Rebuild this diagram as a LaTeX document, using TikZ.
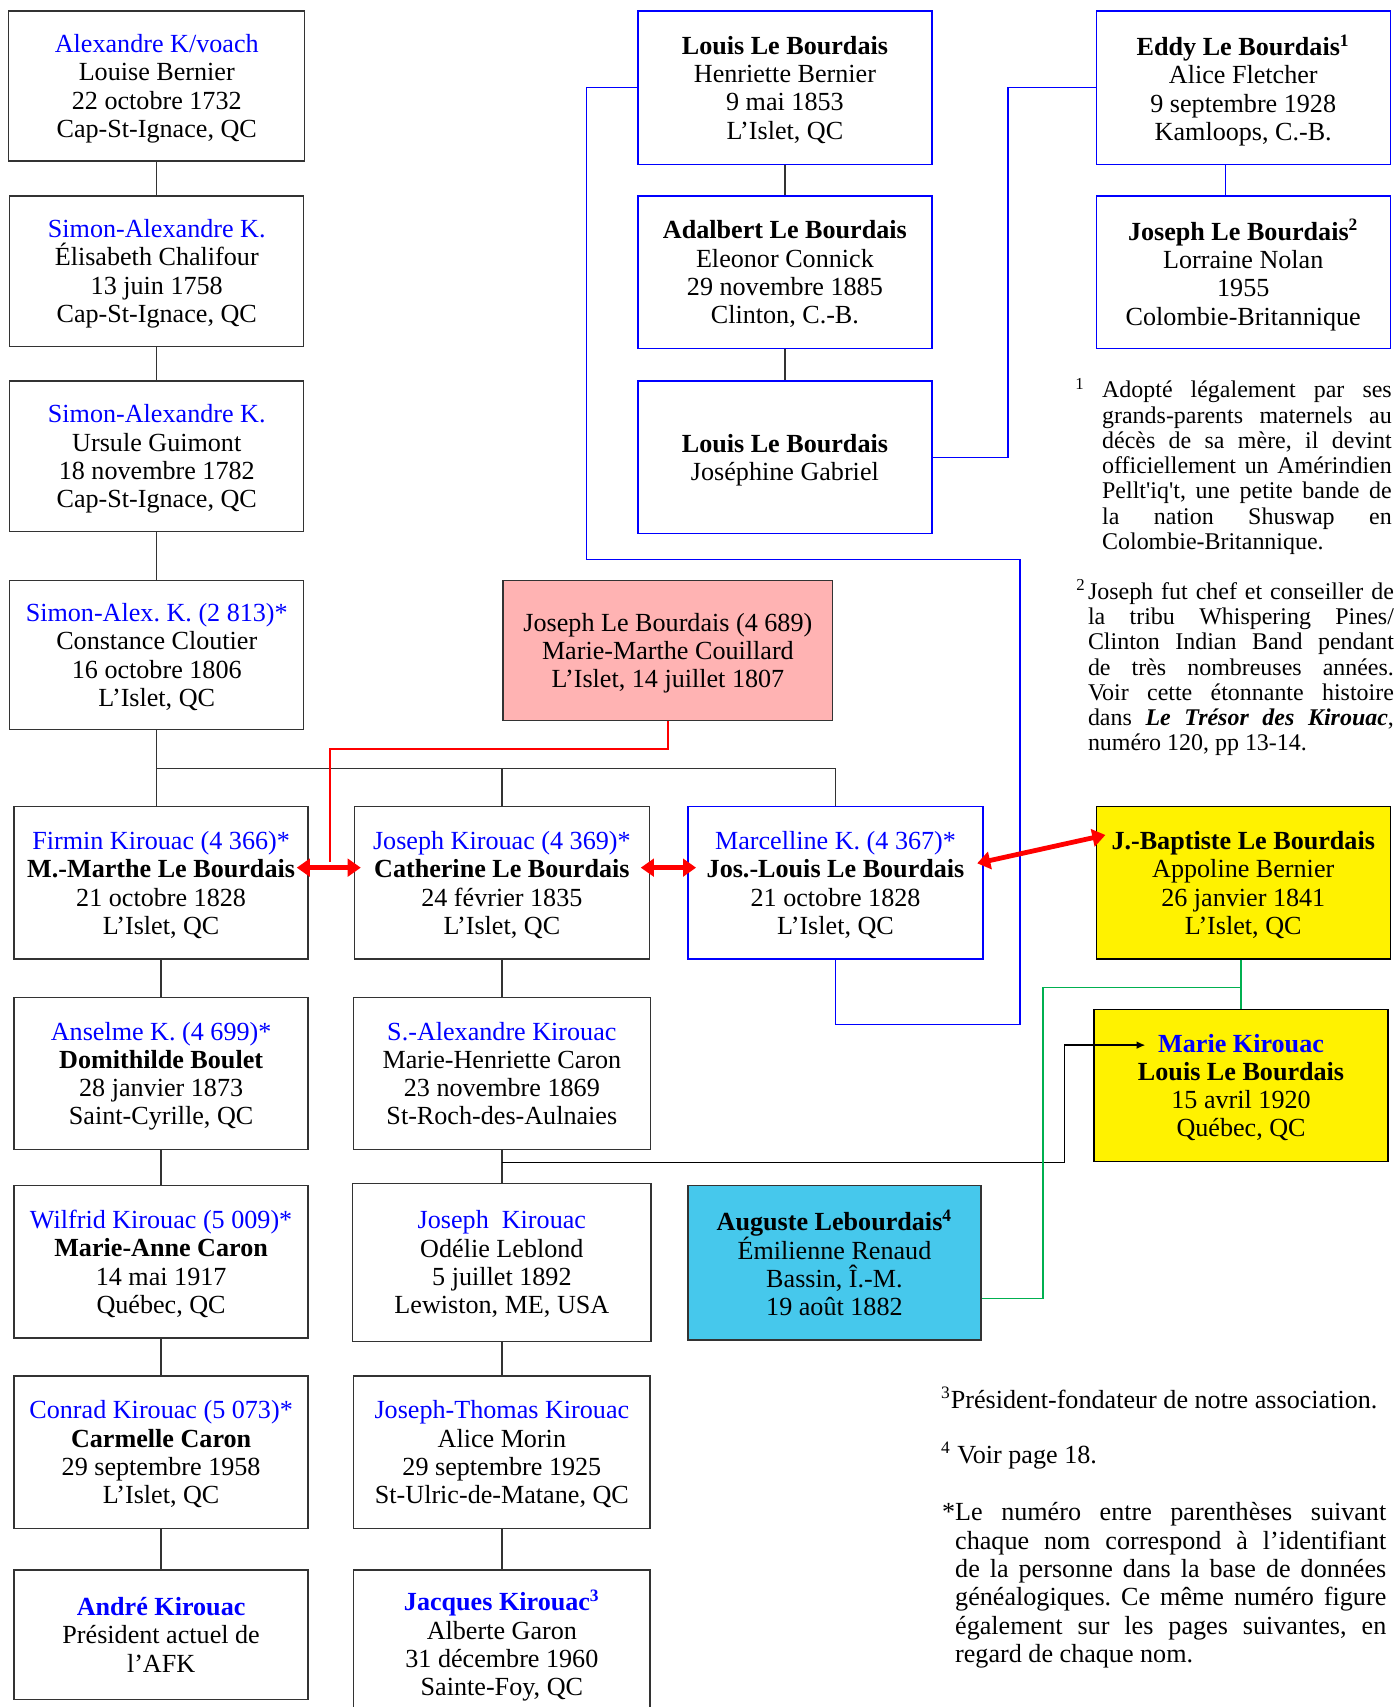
\documentclass[tikz,border=0pt]{standalone}
\usepackage{fontspec}
\setmainfont{Liberation Serif}
\usetikzlibrary{arrows.meta}
\definecolor{pinkfill}{RGB}{255,179,179}
\definecolor{cyanfill}{RGB}{70,200,236}
\definecolor{greenlink}{RGB}{0,176,80}
\definecolor{boxgray}{RGB}{51,51,51}
\newcommand{\kin}[1]{\textcolor{blue}{#1}}
\frenchspacing
\begin{document}
\begin{tikzpicture}[x=0.5pt,y=-0.5pt,
    box/.style={draw=boxgray,line width=0.6pt,align=center,inner sep=0pt,
      minimum width=135pt,minimum height=70pt,text depth=0pt,
      font=\fontsize{12}{13}\selectfont},
    bluebox/.style={box,draw=blue},
    link/.style={draw=boxgray,line width=0.6pt},
    marriage/.style={red,line width=2.2pt,
      {Triangle[length=6pt,width=8pt]}-{Triangle[length=6pt,width=8pt]}},
    note/.style={anchor=north west,inner sep=0pt,align=justify}]
  \useasboundingbox (0,0) rectangle (1283,1568);
  % left column
  \draw
    (144,79) node[box,minimum width=136pt,minimum height=69pt] (alex)
      {\kin{Alexandre K/voach}\\Louise Bernier\\22 octobre 1732\\Cap-St-Ignace, QC}
    (144,249) node[box,minimum height=69pt] (simonA)
      {\kin{Simon-Alexandre K.}\\Élisabeth Chalifour\\13 juin 1758\\Cap-St-Ignace, QC}
    (144,419) node[box,minimum height=69pt] (simonB)
      {\kin{Simon-Alexandre K.}\\Ursule Guimont\\18 novembre 1782\\Cap-St-Ignace, QC}
    (144,601.5) node[box,minimum height=68.5pt] (simonC)
      {\kin{Simon-Alex. K. (2 813)*}\\Constance Cloutier\\16 octobre 1806\\L’Islet, QC}
    (148,811) node[box] (firmin)
      {\kin{Firmin Kirouac (4 366)*}\\\textbf{M.-Marthe Le Bourdais}\\21 octobre 1828\\L’Islet, QC}
    (148,986) node[box] (anselme)
      {\kin{Anselme K. (4 699)*}\\\textbf{Domithilde Boulet}\\28 janvier 1873\\Saint-Cyrille, QC}
    (148,1159) node[box] (wilfrid)
      {\kin{Wilfrid Kirouac (5 009)*}\\\textbf{Marie-Anne Caron}\\14 mai 1917\\Québec, QC}
    (148,1334) node[box] (conrad)
      {\kin{Conrad Kirouac (5 073)*}\\\textbf{Carmelle Caron}\\29 septembre 1958\\L’Islet, QC}
    (148,1501.5) node[box,minimum height=59.5pt,text depth=-4pt] (andre)
      {\kin{\textbf{André Kirouac}}\\Président actuel de\\l’AFK};
  % second column
  \draw
    (461,811) node[box,minimum width=135.5pt] (josephK)
      {\kin{Joseph Kirouac (4 369)*}\\\textbf{Catherine Le Bourdais}\\24 février 1835\\L’Islet, QC}
    (461,986) node[box,minimum width=136.5pt] (salex)
      {\kin{S.-Alexandre Kirouac}\\Marie-Henriette Caron\\23 novembre 1869\\St-Roch-des-Aulnaies}
    (461,1159.5) node[box,minimum width=137pt,minimum height=72.5pt] (josephO)
      {\kin{Joseph~~Kirouac}\\Odélie Leblond\\5 juillet 1892\\Lewiston, ME, USA}
    (461,1334) node[box,minimum width=136pt] (jthomas)
      {\kin{Joseph-Thomas Kirouac}\\Alice Morin\\29 septembre 1925\\St-Ulric-de-Matane, QC}
    (461,1509) node[box,minimum width=136pt,minimum height=67pt] (jacques)
      {\kin{\textbf{Jacques Kirouac\textsuperscript{3}}}\\Alberte Garon\\31 décembre 1960\\Sainte-Foy, QC};
  % Le Bourdais side
  \draw
    (721,80.5) node[bluebox,minimum height=70.5pt] (louisA)
      {\textbf{Louis Le Bourdais}\\Henriette Bernier\\9 mai 1853\\L’Islet, QC}
    (721,250) node[bluebox] (adalbert)
      {\textbf{Adalbert Le Bourdais}\\Eleonor Connick\\29 novembre 1885\\Clinton, C.-B.}
    (721,420) node[bluebox] (louisB)
      {\textbf{Louis Le Bourdais}\\Joséphine Gabriel}
    (1142,80.5) node[bluebox,minimum height=70.5pt] (eddy)
      {\textbf{Eddy Le Bourdais\textsuperscript{1}}\\Alice Fletcher\\9 septembre 1928\\Kamloops, C.-B.}
    (1142,250) node[bluebox] (josephLB)
      {\textbf{Joseph Le Bourdais\textsuperscript{2}}\\Lorraine Nolan\\1955\\Colombie-Britannique}
    (613.5,597.5) node[box,fill=pinkfill,minimum width=151.5pt,minimum height=64.5pt] (lebourdais)
      {Joseph Le Bourdais (4 689)\\Marie-Marthe Couillard\\L’Islet, 14 juillet 1807}
    (767.5,811) node[bluebox,minimum width=135.5pt] (marcel)
      {\kin{Marcelline K. (4 367)*}\\\textbf{Jos.-Louis Le Bourdais}\\21 octobre 1828\\L’Islet, QC}
    (1142,811) node[box,draw=black,fill=yellow] (jbaptiste)
      {\textbf{J.-Baptiste Le Bourdais}\\Appoline Bernier\\26 janvier 1841\\L’Islet, QC}
    (1140,997) node[box,draw=black,fill=yellow] (marie)
      {\kin{\textbf{Marie Kirouac}}\\\textbf{Louis Le Bourdais}\\15 avril 1920\\Québec, QC}
    (766.5,1160) node[box,fill=cyanfill,minimum width=134.5pt,minimum height=71pt,text depth=-2pt] (auguste)
      {\textbf{Auguste Lebourdais\textsuperscript{4}}\\Émilienne Renaud\\Bassin, Î.-M.\\19 août 1882};
  % notes
  \node[note,text width=133pt,font=\fontsize{11}{11.6}\selectfont] (note1) at (1012,347)
    {\hyphenpenalty=10000\llap{\textsuperscript{1}\hspace{8pt}}Adopté légalement par ses\linebreak
     grands-parents maternels au\linebreak décès de sa mère, il devint\linebreak
     officiellement un Amérindien\linebreak Pellt\textquotesingle iq\textquotesingle t, une petite bande de\linebreak
     la nation Shuswap en\linebreak Colombie-Britannique.};
  \node[note,text width=140.5pt,font=\fontsize{11}{11.6}\selectfont] (note2) at (999,532)
    {\hyphenpenalty=10000\llap{\textsuperscript{2}\hspace{1pt}}Joseph fut chef et conseiller de\linebreak
     la tribu Whispering Pines/\linebreak Clinton Indian Band pendant\linebreak
     de très nombreuses années.\linebreak Voir cette étonnante histoire\linebreak
     dans \textbf{\textit{Le Trésor des Kirouac}},\linebreak numéro 120, pp 13-14.};
  \node[anchor=west,inner sep=0pt,font=\fontsize{12}{13}\selectfont] (note3) at (864,1284)
    {\textsuperscript{3}Président-fondateur de notre association.};
  \node[anchor=west,inner sep=0pt,font=\fontsize{12}{13}\selectfont] (note4) at (864,1337)
    {\textsuperscript{4} Voir page 18.};
  \node[note,text width=198pt,font=\fontsize{12}{13}\selectfont] (noteStar) at (877,1380)
    {\hyphenpenalty=10000\llap{*}Le numéro entre parenthèses suivant\linebreak
     chaque nom correspond à l’identifiant\linebreak de la personne dans la base de données\linebreak
     généalogiques. Ce même numéro figure\linebreak également sur les pages suivantes, en\linebreak
     regard de chaque nom.};
  % connectors
  \coordinate (bus) at (144,706);
  \coordinate (fork) at (461,1068);
  \coordinate (marietip) at (1052,960);
  \coordinate (redturn) at (303,688);
  \coordinate (redend) at (303,792);
  \coordinate (gfork) at (1140,907);
  \coordinate (gcorner) at (958,1193);
  \begin{scope}[link]
    \draw (alex) to (simonA);
    \draw (simonA) to (simonB);
    \draw (simonB) to (simonC);
    \draw (simonC.south) -- (simonC.south |- firmin.north);
    \draw (bus) -| (josephK.north);
    \draw (bus) -| (marcel.north);
    \draw (firmin) to (anselme);
    \draw (anselme) to (wilfrid);
    \draw (wilfrid) to (conrad);
    \draw (conrad) to (andre);
    \draw (josephK) to (salex);
    \draw (salex) to (josephO);
    \draw (josephO) to (jthomas);
    \draw (jthomas) to (jacques);
    \draw (louisA) to (adalbert);
    \draw (adalbert) to (louisB);
    \draw[-{Latex[length=4pt,width=3.5pt]},black] (fork) -- (978,1068) |- (marietip);
  \end{scope}
  \begin{scope}[blue,line width=0.6pt]
    \draw ([xshift=-8pt]eddy.south) -- ([xshift=-8pt]josephLB.north);
    \draw (louisA.west) -| (539,514) -| (937,941) -| (marcel.south);
    \draw (louisB.east) -- (926,420) |- (eddy.west);
  \end{scope}
  \draw[red,line width=0.6pt] (lebourdais.south) |- (redturn) -- (redend);
  \begin{scope}[greenlink,line width=0.6pt]
    \draw (jbaptiste.south -| marie.north) -- (marie.north);
    \draw (gfork) -| (gcorner) -- (gcorner -| auguste.east);
  \end{scope}
  \draw[marriage] ([xshift=-5.5pt,yshift=7pt]firmin.east) -- ([xshift=3.25pt,yshift=7pt]josephK.west);
  \draw[marriage] ([xshift=-4.25pt,yshift=7pt]josephK.east) -- ([xshift=4pt,yshift=7pt]marcel.west);
  \draw[marriage] ([xshift=-3pt,yshift=9pt]marcel.east) -- ([xshift=4.5pt,yshift=22pt]jbaptiste.west);
\end{tikzpicture}
\end{document}
